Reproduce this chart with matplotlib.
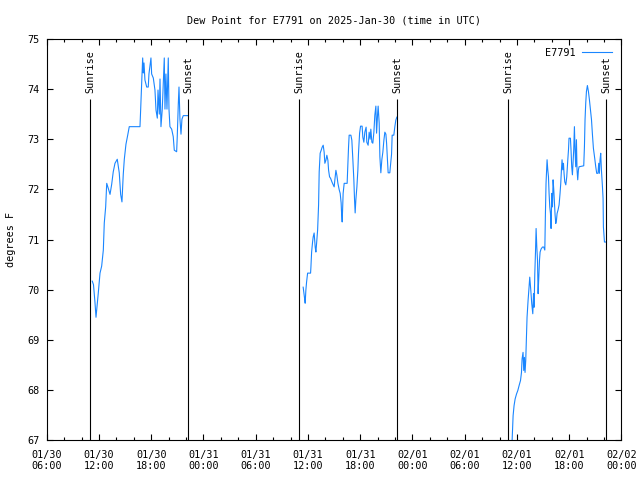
import datetime as dt
import matplotlib
matplotlib.use('Agg')
import matplotlib.pyplot as plt
import matplotlib.dates as mdates

# Hours since 2025-01-30 00:00 UTC and dew point (F), one list pair per daylight period
day1_hours = [11.23, 11.37, 11.54, 11.66, 11.74, 11.92, 12.12, 12.31, 12.50, 12.61,
              12.77, 12.89, 13.07, 13.27, 13.46, 13.64, 13.84, 14.10, 14.33, 14.49,
              14.64, 14.79, 14.91, 15.10, 15.30, 15.48, 16.71, 16.79, 16.94, 17.02,
              17.09, 17.17, 17.28, 17.48, 17.66, 17.74, 17.97, 18.05, 18.24, 18.43,
              18.55, 18.70, 18.78, 18.93, 19.01, 19.12, 19.27, 19.50, 19.58, 19.69,
              19.81, 19.96, 20.04, 20.15, 20.35, 20.53, 20.65, 20.92, 20.99, 21.11,
              21.19, 21.30, 21.42, 21.53, 21.68, 22.25]
day1_temps = [70.17, 70.10, 69.75, 69.45, 69.60, 69.93, 70.33, 70.47, 70.79, 71.33,
              71.65, 72.12, 72.02, 71.90, 72.10, 72.35, 72.52, 72.60, 72.33, 71.90,
              71.75, 72.30, 72.60, 72.90, 73.08, 73.25, 73.25, 73.60, 74.28, 74.62,
              74.32, 74.52, 74.18, 74.04, 74.04, 74.30, 74.62, 74.30, 74.22, 73.98,
              73.58, 73.42, 73.98, 73.50, 74.20, 73.25, 73.60, 74.62, 73.60, 74.30,
              73.60, 74.62, 73.60, 73.25, 73.20, 73.05, 72.78, 72.75, 73.05, 73.70,
              74.04, 73.40, 73.10, 73.40, 73.47, 73.47]

day2_hours = [35.45, 35.61, 35.68, 35.76, 35.84, 35.96, 36.30, 36.34, 36.42, 36.53,
              36.60, 36.71, 36.83, 36.91, 36.99, 37.11, 37.22, 37.29, 37.40, 37.52,
              37.63, 37.75, 37.86, 37.94, 38.06, 38.17, 38.29, 38.37, 38.48, 38.60,
              38.75, 38.90, 39.01, 39.09, 39.21, 39.32, 39.44, 39.59, 39.70, 39.81,
              39.86, 39.93, 40.04, 40.16, 40.50, 40.55, 40.66, 40.73, 40.93, 41.04,
              41.16, 41.27, 41.35, 41.42, 41.50, 41.62, 41.73, 41.81, 41.93, 42.04,
              42.22, 42.30, 42.42, 42.53, 42.68, 42.76, 42.91, 43.03, 43.14, 43.22,
              43.34, 43.45, 43.57, 43.68, 43.80, 43.88, 43.99, 44.06, 44.18, 44.26,
              44.37, 44.49, 44.60, 44.72, 44.83, 44.95, 45.03, 45.14, 45.21, 45.40,
              45.48, 45.60, 45.67, 45.86, 45.98, 46.09, 46.21]
day2_temps = [70.05, 69.83, 69.73, 69.99, 70.15, 70.33, 70.33, 70.45, 70.75, 70.95,
              71.05, 71.13, 70.85, 70.75, 70.92, 71.19, 71.69, 72.35, 72.72, 72.78,
              72.84, 72.88, 72.74, 72.52, 72.58, 72.68, 72.58, 72.38, 72.25, 72.22,
              72.15, 72.09, 72.05, 72.19, 72.38, 72.28, 72.12, 71.99, 71.92, 71.73,
              71.53, 71.35, 71.92, 72.12, 72.12, 72.35, 72.84, 73.08, 73.08, 72.98,
              72.58, 72.19, 71.79, 71.53, 71.79, 72.05, 72.38, 72.74, 73.12, 73.26,
              73.26, 73.04, 72.94, 73.14, 73.24, 72.94, 72.88, 73.14, 73.00, 73.20,
              72.94, 72.92, 73.14, 73.48, 73.66, 73.12, 73.48, 73.66, 73.32, 72.65,
              72.33, 72.60, 72.74, 72.98, 73.14, 73.10, 72.92, 72.55, 72.33, 72.33,
              72.48, 72.70, 73.08, 73.08, 73.25, 73.38, 73.44]

day3_hours = [59.40, 59.56, 59.67, 59.79, 59.95, 60.10, 60.25, 60.41, 60.52, 60.59,
              60.70, 60.78, 60.86, 60.93, 61.01, 61.09, 61.16, 61.28, 61.39, 61.47,
              61.59, 61.70, 61.82, 61.90, 61.97, 62.05, 62.13, 62.20, 62.28, 62.36,
              62.43, 62.51, 62.59, 62.66, 62.77, 62.93, 63.08, 63.20, 63.27, 63.34,
              63.46, 63.54, 63.62, 63.69, 63.77, 63.85, 63.92, 64.00, 64.08, 64.15,
              64.23, 64.31, 64.38, 64.46, 64.54, 64.61, 64.72, 64.84, 64.95, 65.03,
              65.11, 65.18, 65.26, 65.34, 65.41, 65.49, 65.61, 65.72, 65.84, 65.92,
              65.98, 66.14, 66.21, 66.29, 66.37, 66.44, 66.52, 66.60, 66.67, 66.75,
              66.83, 66.90, 66.98, 67.06, 67.13, 67.67, 67.75, 67.82, 67.90, 67.98,
              68.09, 68.21, 68.32, 68.44, 68.56, 68.67, 68.78, 68.93, 69.05, 69.16,
              69.31, 69.39, 69.47, 69.54, 69.62, 69.70, 69.82, 69.89, 69.93, 70.05,
              70.20]
day3_temps = [66.80, 67.49, 67.69, 67.82, 67.92, 67.99, 68.09, 68.19, 68.35, 68.62,
              68.75, 68.39, 68.65, 68.35, 68.59, 69.05, 69.45, 69.79, 70.05, 70.25,
              69.99, 69.72, 69.52, 69.92, 69.65, 70.32, 70.75, 71.22, 70.85, 70.59,
              69.92, 70.25, 70.59, 70.75, 70.81, 70.85, 70.85, 70.79, 71.52, 72.12,
              72.59, 72.39, 72.25, 71.92, 71.65, 71.52, 71.22, 71.92, 71.65, 72.19,
              71.99, 71.72, 71.49, 71.32, 71.39, 71.52, 71.59, 71.69, 71.92, 72.12,
              72.39, 72.59, 72.39, 72.52, 72.32, 72.15, 72.09, 72.25, 72.59, 72.79,
              73.02, 73.02, 72.79, 72.45, 72.29, 72.52, 72.79, 73.25, 72.79, 72.45,
              72.99, 72.39, 72.19, 72.39, 72.45, 72.47, 72.85, 73.39, 73.72, 73.95,
              74.07, 73.95, 73.79, 73.59, 73.39, 73.09, 72.82, 72.62, 72.45, 72.32,
              72.32, 72.52, 72.32, 72.59, 72.72, 72.39, 72.05, 71.82, 71.25, 70.95,
              70.95]

sunrise_hours = [10.98, 34.98, 58.98]
sunset_hours = [22.24, 46.24, 70.26]
station = 'E7791'

base = dt.datetime(2025, 1, 30)
def to_time(hours):
    return [base + dt.timedelta(hours=h) for h in hours]

font = 'DejaVu Sans Mono'
fs = 7.3
plt.rcParams['font.family'] = font
plt.rcParams['font.size'] = fs

fig = plt.figure(figsize=(6.4, 4.8), dpi=100)
ax = fig.add_axes([0.073, 0.083, 0.898, 0.836])

line_color = '#1a86ff'
first = True
for hrs, vals in [(day1_hours, day1_temps), (day2_hours, day2_temps), (day3_hours, day3_temps)]:
    ax.plot(to_time(hrs), vals, color=line_color, lw=0.8,
            label=station if first else None)
    first = False

# Sunrise / sunset markers
for name, hrs in [('Sunrise', sunrise_hours), ('Sunset', sunset_hours)]:
    for t in to_time(hrs):
        ax.vlines(t, 67, 73.8, color='black', lw=0.8)
        ax.text(t, 73.93, name, rotation=90, ha='center', va='bottom', fontsize=fs)

ax.set_xlim(base + dt.timedelta(hours=6), base + dt.timedelta(hours=72))
ax.set_ylim(67, 75)
ax.set_yticks(range(67, 76))

ax.xaxis.set_major_locator(mdates.HourLocator(byhour=[0, 6, 12, 18]))
ax.xaxis.set_minor_locator(mdates.HourLocator(byhour=range(0, 24, 2)))
ax.xaxis.set_major_formatter(mdates.DateFormatter('%m/%d\n%H:%M'))

ax.tick_params(which='both', direction='in', top=True, right=True, width=0.8)
ax.tick_params(which='major', length=4)
ax.tick_params(axis='x', which='major', pad=7)
ax.tick_params(axis='y', which='major', pad=5)
ax.tick_params(which='minor', length=2)
for sp in ax.spines.values():
    sp.set_linewidth(0.8)

ax.set_ylabel('degrees F', labelpad=8)
ax.set_title('Dew Point for E7791 on 2025-Jan-30 (time in UTC)', fontsize=fs, pad=11)

ax.legend(loc='upper right', frameon=False, markerfirst=False, handlelength=3.0,
          borderaxespad=0.5, handletextpad=0.6, fontsize=fs)

fig.savefig('out.png', dpi=100)
